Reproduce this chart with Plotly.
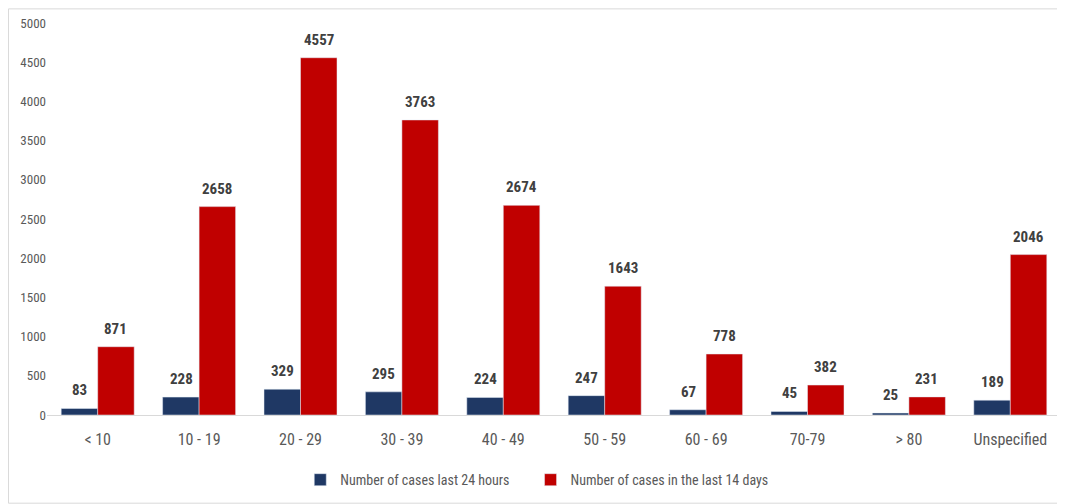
import plotly.graph_objects as go

categories = ["< 10", "10 - 19", "20 - 29", "30 - 39", "40 - 49", "50 - 59", "60 - 69", "70-79", "> 80", "Unspecified"]
cases_24h = [83, 228, 329, 295, 224, 247, 67, 45, 25, 189]
cases_14d = [871, 2658, 4557, 3763, 2674, 1643, 778, 382, 231, 2046]
y_ticks = list(range(0, 5001, 500))

FONT = "Liberation Sans Narrow, Arial Narrow, Roboto Condensed, Liberation Sans, sans-serif"
LABEL_FONT = dict(family=FONT, size=15, color="#404040", weight="bold")

fig = go.Figure()
fig.add_trace(go.Bar(
    x=categories, y=cases_24h,
    name="Number of cases last 24 hours" + "\u00a0" * 5,
    marker=dict(color="#1F3864"),
))
fig.add_trace(go.Bar(
    x=categories, y=cases_14d, name="Number of cases in the last 14 days",
    marker=dict(color="#C00000"),
))

annotations = []
for cat, v in zip(categories, cases_24h):
    annotations.append(dict(x=cat, y=v, text=str(v), showarrow=False, xanchor="center",
                            yanchor="bottom", xshift=-18, yshift=7, font=LABEL_FONT))
for cat, v in zip(categories, cases_14d):
    annotations.append(dict(x=cat, y=v, text=str(v), showarrow=False, xanchor="center",
                            yanchor="bottom", xshift=18, yshift=7, font=LABEL_FONT))

fig.update_layout(
    width=1057, height=496,
    margin=dict(l=39, r=4, t=15, b=89),
    paper_bgcolor="white", plot_bgcolor="white",
    barmode="group", bargap=0.28, bargroupgap=0,
    font=dict(family=FONT, color="#595959"),
    showlegend=True,
    legend=dict(orientation="h", x=0.483, xanchor="center", y=-0.166, yanchor="middle",
                font=dict(size=14, color="#595959"), traceorder="normal"),
    xaxis=dict(showgrid=False, showline=True, linecolor="#d9d9d9", linewidth=1,
               tickfont=dict(size=16, color="#595959"), ticks="", ticklen=0,
               ticklabelstandoff=10),
    yaxis=dict(range=[0, 5000], tickvals=y_ticks, showgrid=False, zeroline=False,
               showline=False, tickfont=dict(size=13, color="#595959"), ticks=""),
    annotations=annotations,
    shapes=[dict(type="rect", xref="paper", yref="paper",
                 x0=-0.038, x1=0.999, y0=-0.225, y1=1.036,
                 line=dict(color="#d9d9d9", width=1), fillcolor="rgba(0,0,0,0)")],
)

fig.write_html("out.html")
